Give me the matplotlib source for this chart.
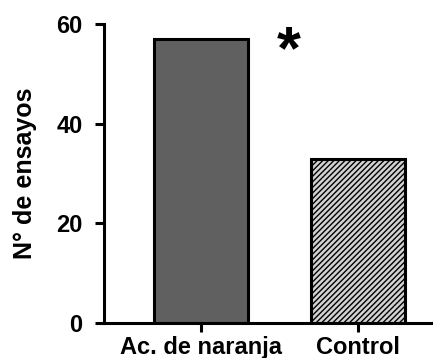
import matplotlib
matplotlib.use("Agg")
import matplotlib.pyplot as plt

categories = ["Ac. de naranja", "Control"]
values = [57, 33]
yticks = [0, 20, 40, 60]
ylabel = "N° de ensayos"
annotation = "*"

plt.rcParams['font.family'] = ['Liberation Sans', 'DejaVu Sans']
plt.rcParams['font.weight'] = 'bold'
plt.rcParams['hatch.linewidth'] = 1.0
plt.rcParams['hatch.color'] = '#3c3c3c'

fig = plt.figure(figsize=(4.33, 3.58), dpi=100)
ax = fig.add_axes([104/433, 1 - 323/358, (433 - 104)/433, (323 - 24)/358])

x = list(range(len(categories)))
bars = ax.bar(x, values, width=0.6, color=['#606060', '#d2d2d2'],
              edgecolor='black', linewidth=2.2, zorder=2)
bars[1].set_hatch('//////')

ax.set_xlim(-0.62, 1.48)
ax.set_ylim(0, 60)
ax.set_yticks(yticks)
ax.set_xticks(x)
ax.set_xticklabels(categories, fontsize=17, fontweight='bold')
ax.set_yticklabels([str(t) for t in yticks], fontsize=17, fontweight='bold')
ax.set_ylabel(ylabel, fontsize=18, fontweight='bold', labelpad=14)

for s in ['top', 'right']:
    ax.spines[s].set_visible(False)
for s in ['left', 'bottom']:
    ax.spines[s].set_linewidth(2.2)
ax.tick_params(axis='both', width=2.2, length=6.5)
ax.tick_params(axis='y', pad=9)
ax.tick_params(axis='x', pad=3)
ax.spines['bottom'].set_zorder(3)

ax.text(0.56, 54.2, annotation, fontsize=44, fontweight='bold',
        ha='center', va='center')

fig.savefig("out.png", dpi=100)
